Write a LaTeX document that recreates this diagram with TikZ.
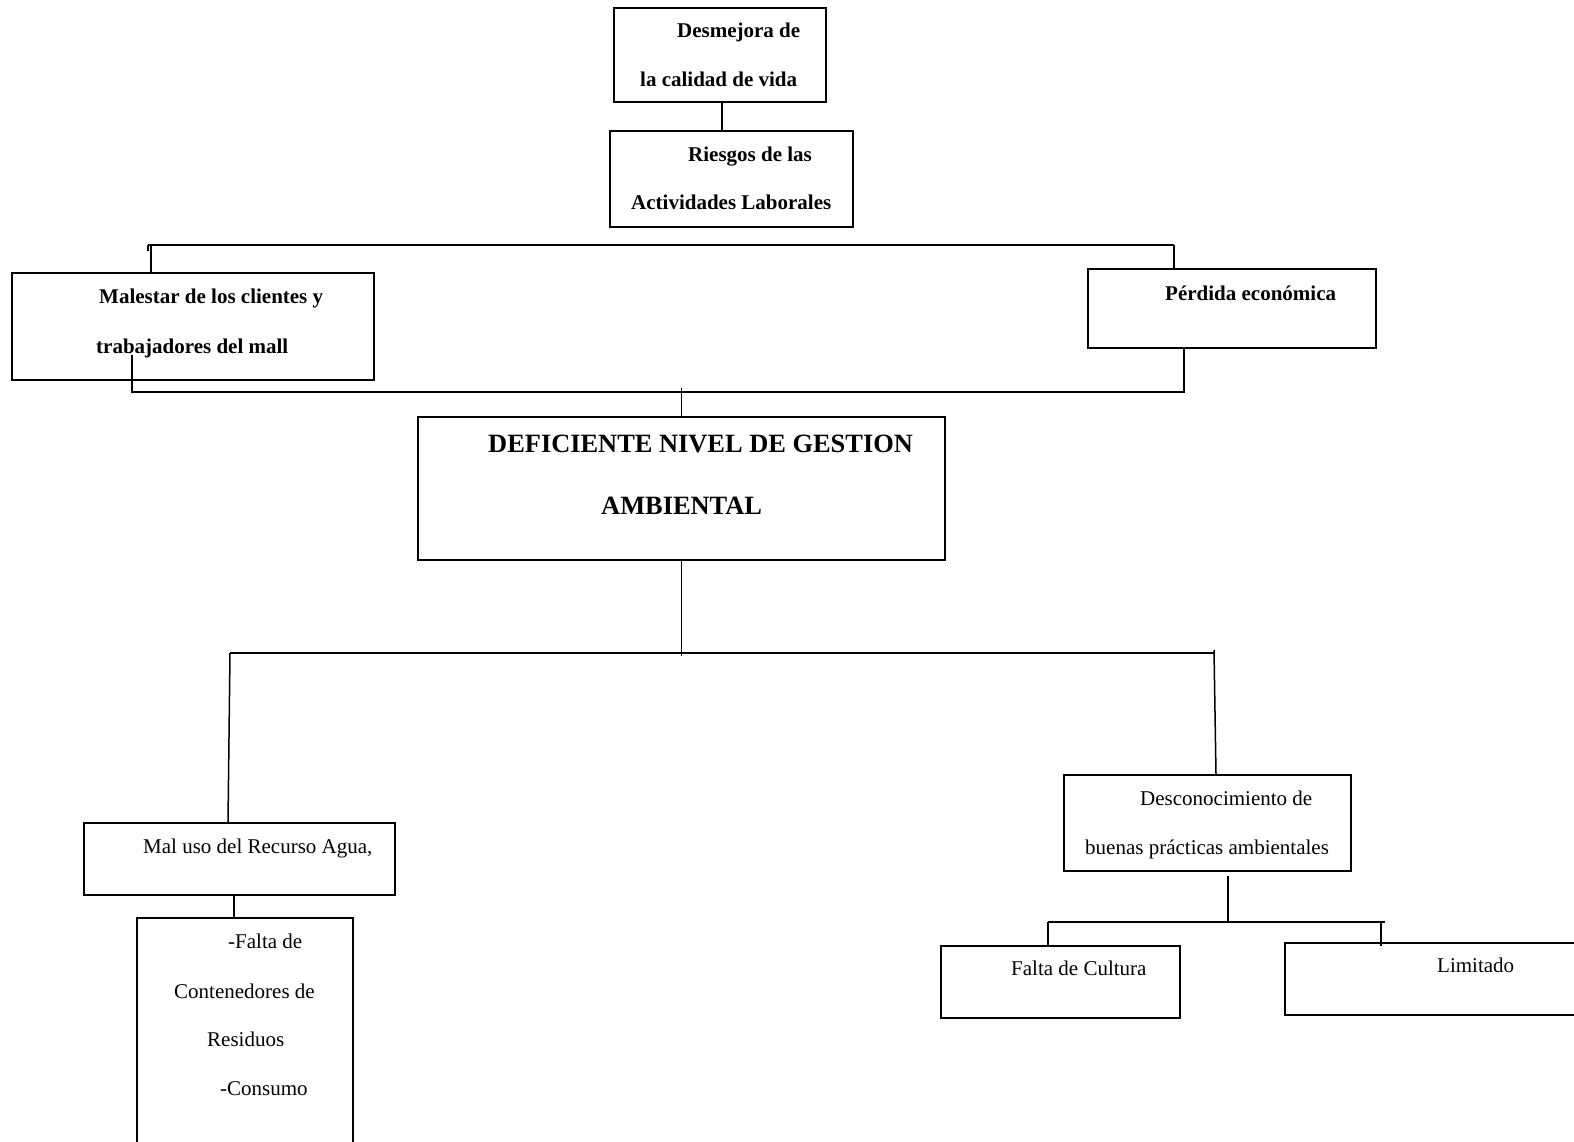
\documentclass[tikz,border=0pt]{standalone}
\usepackage{fontspec}
\setmainfont{Liberation Serif}
\usetikzlibrary{calc}
\begin{document}
\begin{tikzpicture}[x=1pt,y=-1pt,
  box/.style={draw, line width=1.5pt, rectangle, inner sep=0pt},
  conn/.style={line width=1.5pt},
  txt/.style={inner sep=0pt, anchor=base west, font=\fontsize{21}{25}\selectfont},
  btxt/.style={inner sep=0pt, anchor=base west, font=\bfseries\fontsize{21}{25}\selectfont},
  bigtxt/.style={inner sep=0pt, anchor=base west, font=\bfseries\fontsize{26.4}{30}\selectfont}]
\useasboundingbox (0,0) rectangle (1574,1142);
\clip (0,0) rectangle (1574,1142);

% boxes
\node[box, minimum width=212pt, minimum height=94pt] (b1) at (720,55) {};
\node[box, minimum width=243pt, minimum height=96pt] (b2) at (731.5,179) {};
\node[box, minimum width=362pt, minimum height=107pt] (mal) at (193,326.5) {};
\node[box, minimum width=288pt, minimum height=79pt] (per) at (1232,308.5) {};
\node[box, minimum width=527pt, minimum height=143pt] (cen) at (681.5,488.5) {};
\node[box, minimum width=311pt, minimum height=72pt] (agua) at (239.5,859) {};
\node[box, minimum width=216pt, minimum height=242pt] (res) at (245,1039) {};
\node[box, minimum width=287pt, minimum height=96pt] (des) at (1207.5,823) {};
\node[box, minimum width=239pt, minimum height=72pt] (cul) at (1060.5,982) {};
\node[box, minimum width=315pt, minimum height=72pt] (lim) at (1442.5,979) {};

% texts
\node[btxt] (t1a) at (677,38) {Desmejora de};
\node[btxt] (t1b) at (640,87) {la calidad de vida};
\node[btxt] (t2a) at (688,162) {Riesgos de las};
\node[btxt] (t2b) at (631,210) {Actividades Laborales};
\node[btxt] (t3a) at (99,303) {Malestar de los clientes y};
\node[btxt] (t3b) at (96,353) {trabajadores del mall};
\node[btxt] (t4a) at (1165,300) {Pérdida económica};
\node[bigtxt] (t5a) at (488,452) {DEFICIENTE NIVEL DE GESTION};
\node[bigtxt] (t5b) at (601,514) {AMBIENTAL};
\node[txt] (t6a) at (143,853) {Mal uso del Recurso Agua,};
\node[txt] (t7a) at (228,948) {-Falta de};
\node[txt] (t7b) at (174,998) {Contenedores de};
\node[txt] (t7c) at (207,1046) {Residuos};
\node[txt] (t7d) at (220,1095) {-Consumo};
\node[txt] (t8a) at (1140,805) {Desconocimiento de};
\node[txt] (t8b) at (1085,854) {buenas prácticas ambientales};
\node[txt] (t9a) at (1011,975) {Falta de Cultura};
\node[txt] (t10a) at (1437,972) {Limitado};

% junction coordinates
\coordinate (k1) at (722,0);
\coordinate (tb1) at (148,245);
\coordinate (tb2) at (1174,245);
\coordinate (tl) at (151,245);
\coordinate (m1) at (132,355);
\coordinate (m2) at (1184,392);
\coordinate (h1) at (230,653);
\coordinate (h2) at (1214,653);
\coordinate (h3) at (1214,650);
\coordinate (a1) at (228,0);
\coordinate (d1) at (1216,0);
\coordinate (r1) at (234,0);
\coordinate (s1) at (1228,876);
\coordinate (s2) at (1228,922);
\coordinate (f1) at (1048,922);
\coordinate (f2) at (1385,922);
\coordinate (f3) at (1381,922);
\coordinate (f4) at (1381,946);

% connectors
\draw[conn] (b1.south -| k1) -- (b2.north -| k1);
\draw[conn] (tb1) -- ++(0,6);
\draw[conn] (tb1) -- (tb2);
\draw[conn] (tl) -- (mal.north -| tl);
\draw[conn] (tb2) -- (per.north -| tb2);
\draw[conn] (m1) |- (m2) -- (per.south -| m2);
\draw[conn] (cen.north) -- ++(0,-28);
\draw[conn] (cen.south) -- ++(0,95);
\draw[conn] (h1) -- (h2);
\draw[conn] (h1) -- (agua.north -| a1);
\draw[conn] (h3) -- (des.north -| d1);
\draw[conn] (agua.south -| r1) -- (res.north -| r1);
\draw[conn] (s1) -- (s2);
\draw[conn] (f1) -- (f2);
\draw[conn] (f1) -- (cul.north -| f1);
\draw[conn] (f3) -- (f4);
\end{tikzpicture}
\end{document}
